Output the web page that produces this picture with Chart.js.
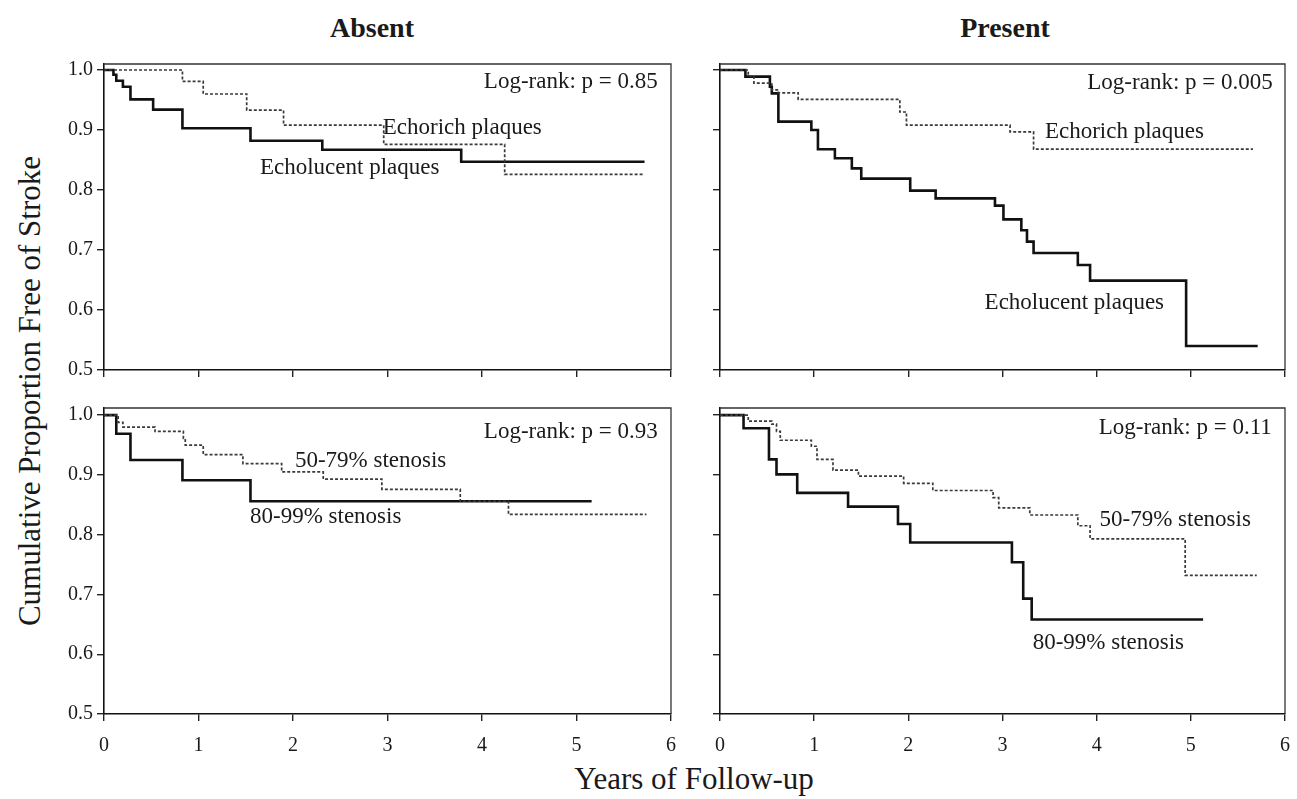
<!DOCTYPE html>
<html><head><meta charset="utf-8">
<script src="https://cdn.jsdelivr.net/npm/chart.js@4.4.1/dist/chart.umd.min.js"></script>
<style>
html,body{margin:0;padding:0;background:#fff;}
body{width:1297px;height:799px;overflow:hidden;position:relative;font-family:"Liberation Serif","DejaVu Serif",serif;color:#1a1a1a;}
canvas{position:absolute;}
.txt{position:absolute;white-space:nowrap;transform:translate(-50%,-50%);}
</style></head><body>
<div class="txt" style="left:372px;top:28px;font-size:28px;font-weight:bold;">Absent</div>
<div class="txt" style="left:1005px;top:28px;font-size:28px;font-weight:bold;">Present</div>
<div class="txt" style="left:30px;top:391px;font-size:31px;transform:translate(-50%,-50%) rotate(-90deg);">Cumulative Proportion Free of Stroke</div>
<div class="txt" style="left:694px;top:779px;font-size:31px;">Years of Follow-up</div>
<canvas id="tl" width="639" height="364" style="left:44px;top:56px"></canvas>
<canvas id="tr" width="637" height="364" style="left:660px;top:56px"></canvas>
<canvas id="bl" width="639" height="364" style="left:44px;top:400px"></canvas>
<canvas id="br" width="637" height="364" style="left:660px;top:400px"></canvas>
<script>
// ---- data (years of follow-up, cumulative proportion free of stroke) ----
const yearTicks = [0, 1, 2, 3, 4, 5, 6];
const propTicks = [0.5, 0.6, 0.7, 0.8, 0.9, 1.0];

// Absent – echogenicity
const absEcholucentT = [0, 0.10, 0.13, 0.20, 0.28, 0.52, 0.83, 1.55, 2.31, 3.78, 5.72];
const absEcholucentS = [1.0, 0.992, 0.982, 0.972, 0.951, 0.934, 0.903, 0.882, 0.867, 0.847, 0.847];
const absEchorichT = [0, 0.83, 1.05, 1.51, 1.90, 2.96, 4.24, 5.72];
const absEchorichS = [1.0, 0.981, 0.960, 0.933, 0.908, 0.876, 0.826, 0.826];

// Present – echogenicity
const presEcholucentT = [0, 0.27, 0.53, 0.55, 0.62, 0.97, 1.04, 1.22, 1.40, 1.50, 2.02, 2.29, 2.92, 3.01, 3.20, 3.26, 3.33, 3.80, 3.93, 4.95, 5.71];
const presEcholucentS = [1.0, 0.989, 0.972, 0.961, 0.914, 0.900, 0.868, 0.853, 0.836, 0.819, 0.799, 0.786, 0.774, 0.751, 0.733, 0.714, 0.695, 0.675, 0.649, 0.540, 0.540];
const presEchorichT = [0, 0.30, 0.36, 0.55, 0.62, 0.83, 1.91, 1.98, 3.08, 3.33, 5.66];
const presEchorichS = [1.0, 0.990, 0.978, 0.967, 0.962, 0.951, 0.930, 0.908, 0.897, 0.868, 0.868];

// Absent – stenosis
const absSten80T = [0, 0.13, 0.28, 0.83, 1.55, 5.16];
const absSten80S = [1.0, 0.969, 0.925, 0.891, 0.856, 0.856];
const absSten50T = [0, 0.15, 0.20, 0.54, 0.84, 0.86, 1.05, 1.47, 1.88, 2.32, 2.94, 3.77, 4.28, 5.74];
const absSten50S = [1.0, 0.988, 0.980, 0.973, 0.961, 0.950, 0.934, 0.919, 0.905, 0.893, 0.876, 0.856, 0.834, 0.834];

// Present – stenosis
const presSten80T = [0, 0.25, 0.52, 0.60, 0.82, 1.36, 1.89, 2.02, 3.10, 3.22, 3.31, 5.13];
const presSten80S = [1.0, 0.978, 0.926, 0.901, 0.870, 0.847, 0.818, 0.787, 0.754, 0.693, 0.658, 0.658];
const presSten50T = [0, 0.30, 0.55, 0.60, 0.64, 0.97, 1.03, 1.20, 1.47, 1.95, 2.26, 2.90, 2.96, 3.29, 3.80, 3.93, 4.94, 5.70];
const presSten50S = [1.0, 0.990, 0.985, 0.973, 0.958, 0.948, 0.926, 0.908, 0.898, 0.886, 0.874, 0.862, 0.845, 0.833, 0.815, 0.793, 0.732, 0.732];

// ---- text labels inside panels (text, anchor year, anchor proportion, alignment) ----
const absPlaqueNotes = [
  {text: 'Log-rank: p = 0.85', x: 5.86, y: 0.980, align: 'right'},
  {text: 'Echorich plaques', x: 2.95, y: 0.903, align: 'left'},
  {text: 'Echolucent plaques', x: 1.65, y: 0.836, align: 'left'}
];
const presPlaqueNotes = [
  {text: 'Log-rank: p = 0.005', x: 5.87, y: 0.978, align: 'right'},
  {text: 'Echorich plaques', x: 3.45, y: 0.897, align: 'left'},
  {text: 'Echolucent plaques', x: 2.81, y: 0.611, align: 'left'}
];
const absStenNotes = [
  {text: 'Log-rank: p = 0.93', x: 5.86, y: 0.972, align: 'right'},
  {text: '50-79% stenosis', x: 2.02, y: 0.924, align: 'left'},
  {text: '80-99% stenosis', x: 1.545, y: 0.830, align: 'left'}
];
const presStenNotes = [
  {text: 'Log-rank: p = 0.11', x: 5.86, y: 0.978, align: 'right'},
  {text: '50-79% stenosis', x: 4.03, y: 0.824, align: 'left'},
  {text: '80-99% stenosis', x: 3.32, y: 0.619, align: 'left'}
];

// ---- helpers ----
const FONT = '"Liberation Serif", "DejaVu Serif", serif';
const INK = '#1a1a1a';
const pts = (t, s) => t.map((v, i) => ({x: v, y: s[i]}));

const notesPlugin = {
  id: 'notes',
  afterDatasetsDraw(chart, args, opts) {
    const {ctx} = chart; const x = chart.scales.x, y = chart.scales.y;
    ctx.save();
    ctx.font = '23px ' + FONT;
    ctx.fillStyle = INK;
    ctx.textBaseline = 'middle';
    (opts.items || []).forEach(n => {
      ctx.textAlign = n.align;
      ctx.fillText(n.text, x.getPixelForValue(n.x), y.getPixelForValue(n.y));
    });
    ctx.restore();
  }
};
const framePlugin = {
  id: 'frame',
  beforeDatasetsDraw(chart) {
    const {ctx, chartArea: a} = chart;
    ctx.save();
    ctx.strokeStyle = '#333';
    ctx.lineWidth = 1.3;
    ctx.beginPath();
    ctx.moveTo(a.left, a.top); ctx.lineTo(a.right, a.top); ctx.lineTo(a.right, a.bottom);
    ctx.stroke();
    ctx.restore();
  }
};
const zeroPad = s => { s.paddingTop = 0; s.paddingBottom = 0; s.paddingLeft = 0; s.paddingRight = 0; };

function makePanel(id, solidT, solidS, dashT, dashS, notes, showX, showY, yMax) {
  new Chart(document.getElementById(id), {
    type: 'line',
    data: {
      datasets: [
        {data: pts(dashT, dashS), borderColor: '#3a3a3a', borderWidth: 1.7, borderDash: [3, 2], stepped: true, pointRadius: 0, fill: false},
        {data: pts(solidT, solidS), borderColor: '#111', borderWidth: 2.6, stepped: true, pointRadius: 0, fill: false}
      ]
    },
    options: {
      responsive: false, animation: false, devicePixelRatio: 1,
      layout: {padding: {left: 0, top: 8, right: 12, bottom: 0}},
      plugins: {legend: {display: false}, tooltip: {enabled: false}, notes: {items: notes}},
      scales: {
        x: {
          type: 'linear', min: 0, max: 6,
          afterBuildTicks: s => { s.ticks = yearTicks.map(v => ({value: v})); },
          afterFit: s => { s.height = 50; zeroPad(s); },
          ticks: {display: showX, padding: 13, color: INK, font: {family: FONT, size: 20}, callback: v => String(v)},
          grid: {display: true, drawOnChartArea: false, drawTicks: true, tickLength: 7, color: '#222', lineWidth: 1.4},
          border: {display: true, color: '#111', width: 1.6}
        },
        y: {
          type: 'linear', min: 0.5, max: yMax,
          afterBuildTicks: s => { s.ticks = propTicks.map(v => ({value: v})); },
          afterFit: s => { s.width = 60; zeroPad(s); },
          ticks: {display: showY, padding: 4, color: INK, font: {family: FONT, size: 20}, callback: v => Number(v).toFixed(1)},
          grid: {display: true, drawOnChartArea: false, drawTicks: true, tickLength: 7, color: '#222', lineWidth: 1.4},
          border: {display: true, color: '#111', width: 1.6}
        }
      }
    },
    plugins: [framePlugin, notesPlugin]
  });
}

makePanel('tl', absEcholucentT, absEcholucentS, absEchorichT, absEchorichS, absPlaqueNotes, false, true, 1.01);
makePanel('tr', presEcholucentT, presEcholucentS, presEchorichT, presEchorichS, presPlaqueNotes, false, false, 1.01);
makePanel('bl', absSten80T, absSten80S, absSten50T, absSten50S, absStenNotes, true, true, 1.012);
makePanel('br', presSten80T, presSten80S, presSten50T, presSten50S, presStenNotes, true, false, 1.012);
</script>
</body></html>
